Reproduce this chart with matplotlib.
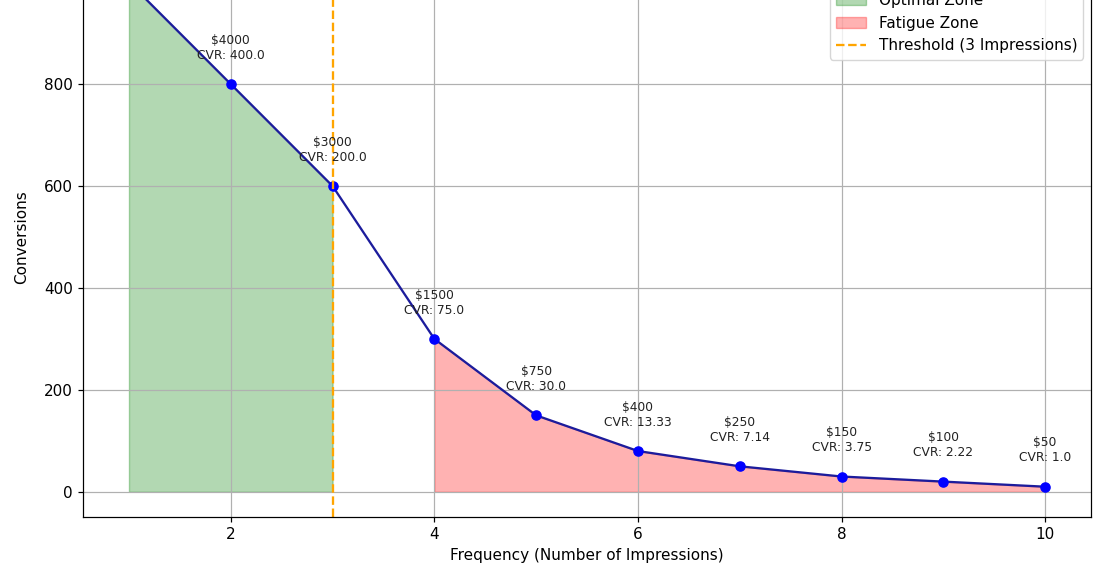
import matplotlib
matplotlib.use("Agg")
import matplotlib.pyplot as plt

frequency = [1, 2, 3, 4, 5, 6, 7, 8, 9, 10]
conversions = [1000, 800, 600, 300, 150, 80, 50, 30, 20, 10]
spend = [5000, 4000, 3000, 1500, 750, 400, 250, 150, 100, 50]
threshold = 3

k = 1.1
plt.rcParams.update({
    'font.size': 10 * k,
    'lines.linewidth': 1.5 * k,
    'lines.markersize': 6 * k,
    'axes.linewidth': 0.8 * k,
    'grid.linewidth': 0.8 * k,
    'xtick.major.width': 0.8 * k,
    'ytick.major.width': 0.8 * k,
    'xtick.major.size': 3.5 * k,
    'ytick.major.size': 3.5 * k,
})

fig = plt.figure(figsize=(11, 5.77), dpi=100)
ax = fig.add_axes([0.0756, 0.1035, 0.9162, 0.9715])

ax.plot(frequency, conversions, marker='o', color='#1c1c9c',
        markerfacecolor='blue', markeredgecolor='blue', label='Conversions')
ax.fill_between(frequency[:3], conversions[:3], color='green', alpha=0.3, label='Optimal Zone')
ax.fill_between(frequency[3:], conversions[3:], color='red', alpha=0.3, label='Fatigue Zone')
ax.axvline(threshold, color='orange', linestyle='--', label='Threshold (3 Impressions)')

for f, c, s in zip(frequency, conversions, spend):
    cvr = round(c / f, 2)
    ax.annotate(f"${s}\nCVR: {cvr}", (f, c), textcoords='offset points',
                xytext=(0, 16), ha='center', va='bottom', fontsize=8 * k, color='#222222')

ax.set_xlabel('Frequency (Number of Impressions)')
ax.set_ylabel('Conversions')
ax.grid(True)
ax.legend(loc='upper right')
ax.set_ylim(-50, 1050)
ax.set_xlim(0.55, 10.45)

fig.savefig('out.png', dpi=100)
